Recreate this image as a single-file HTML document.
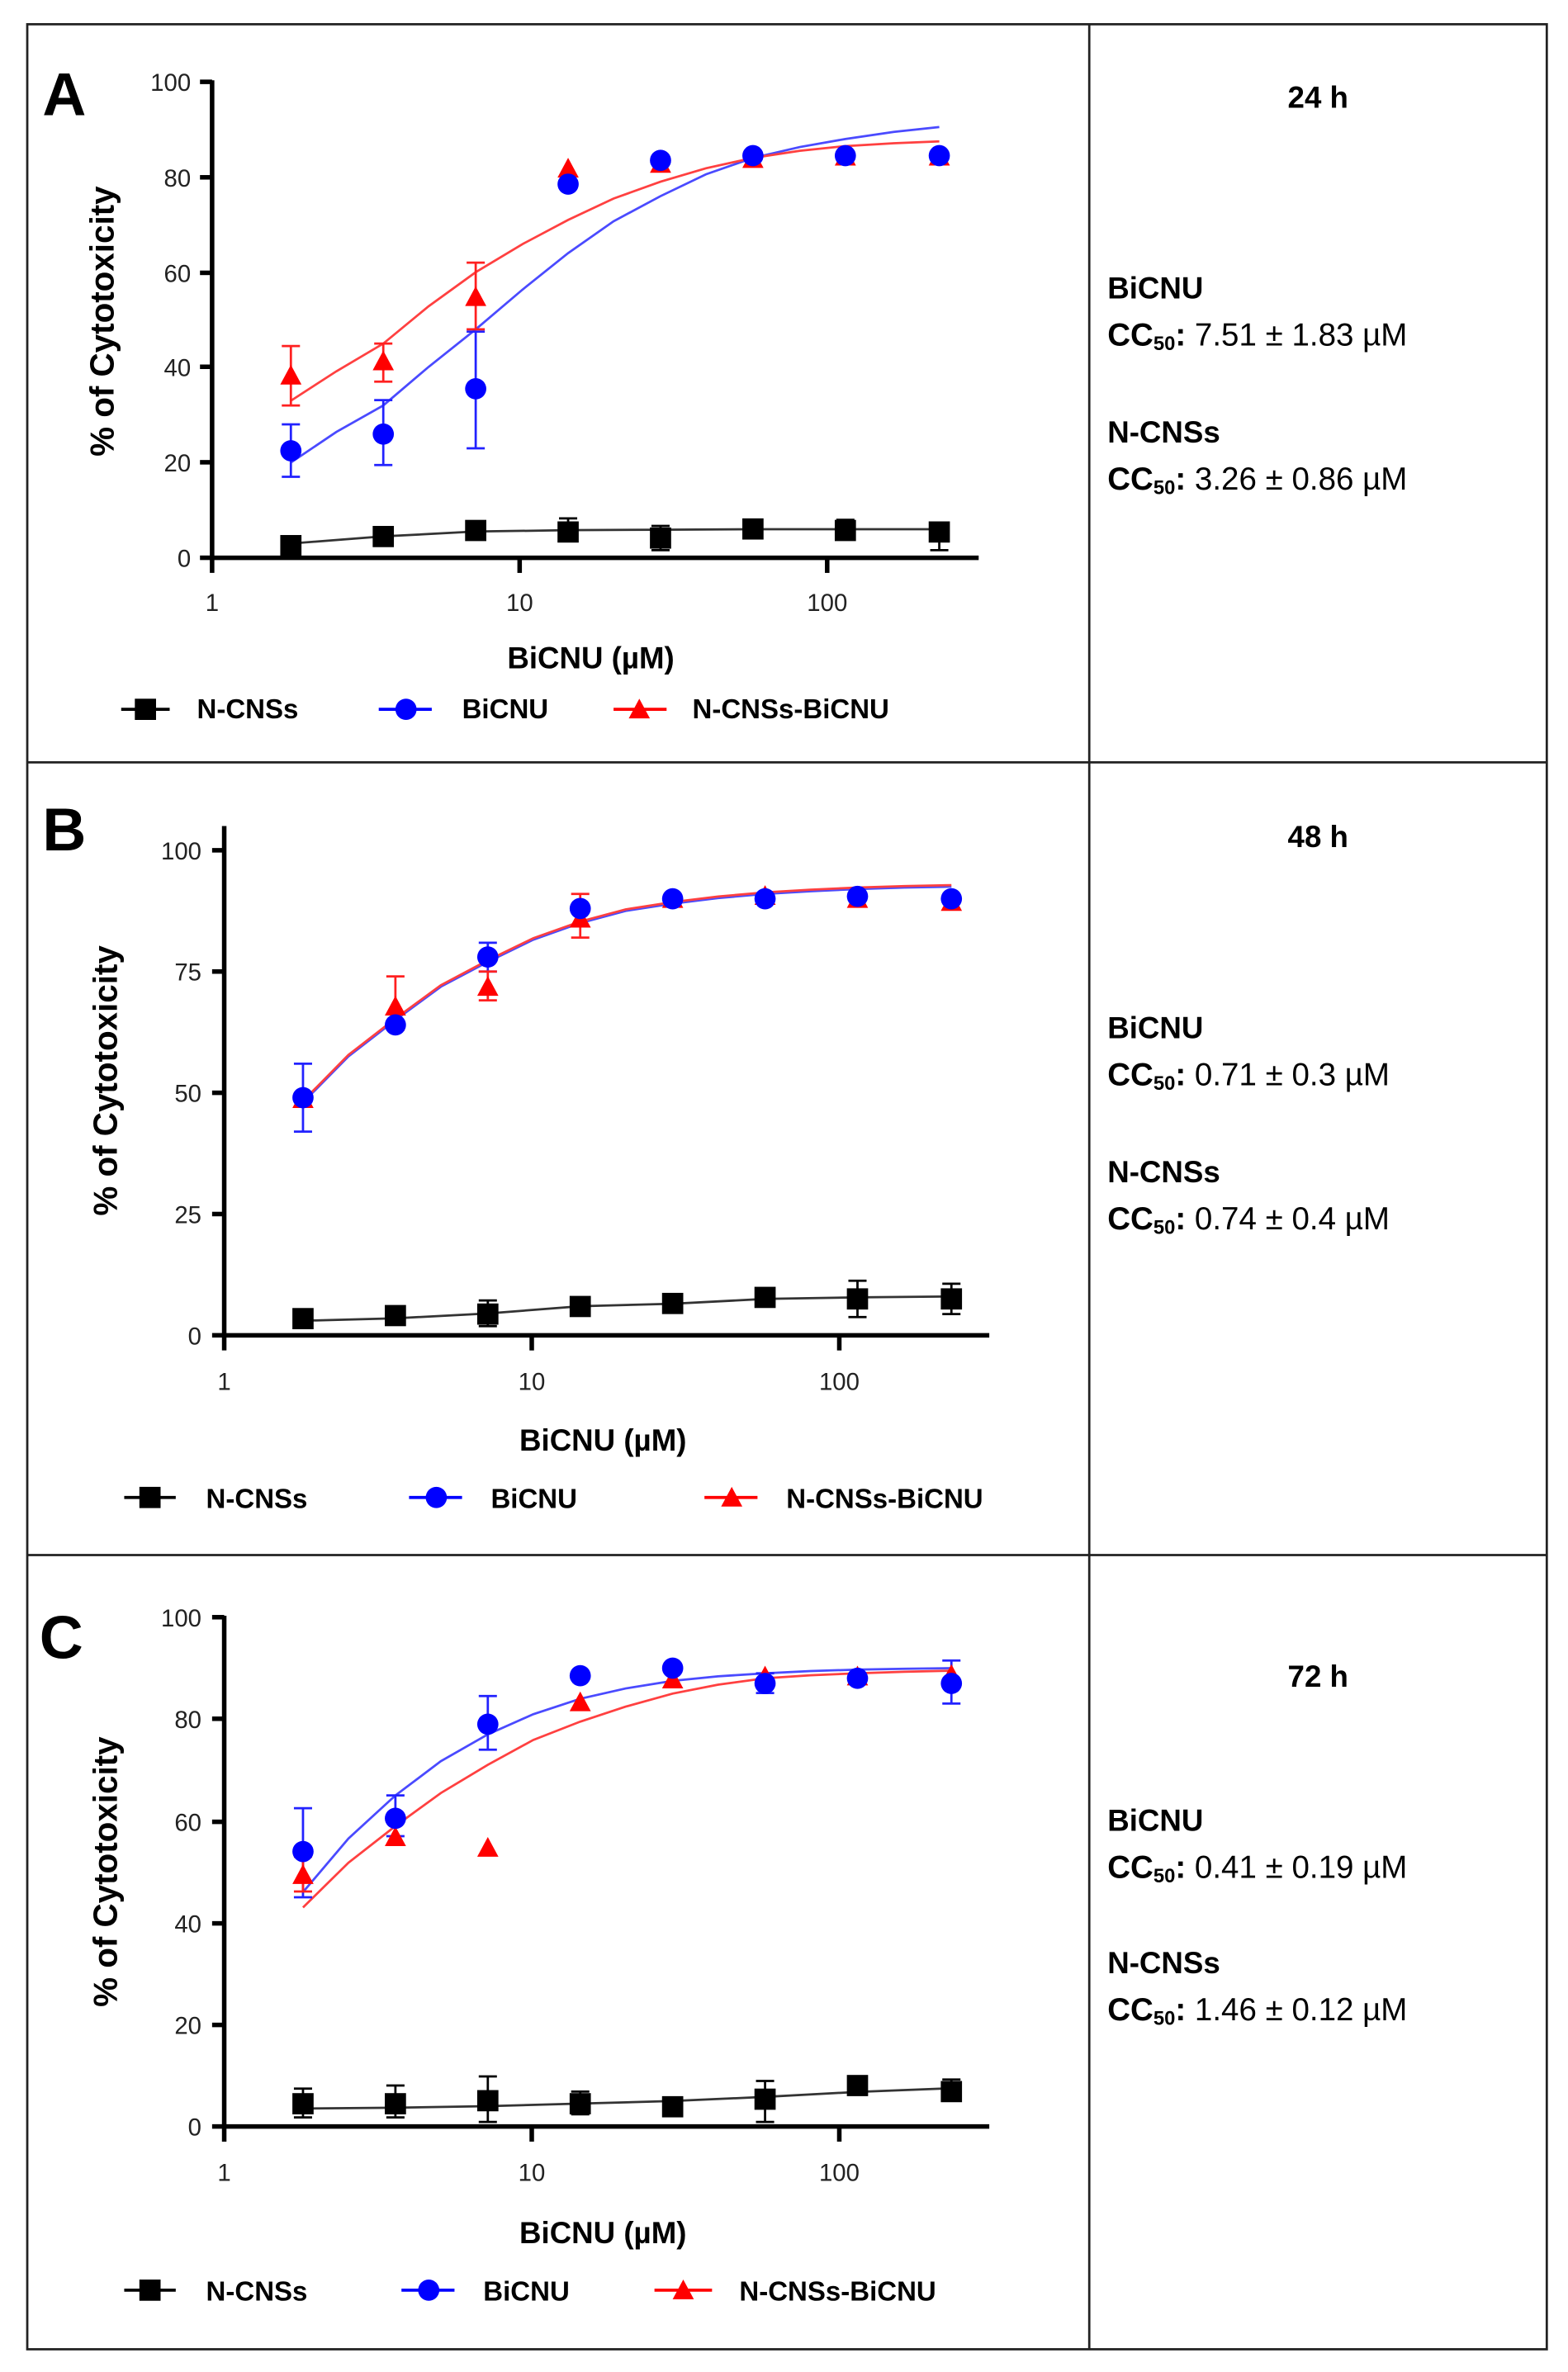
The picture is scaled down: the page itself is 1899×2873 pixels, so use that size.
<!DOCTYPE html>
<html><head><meta charset="utf-8"><style>
html,body{margin:0;padding:0;background:#fff;}
svg{display:block;}
text{font-family:"Liberation Sans",sans-serif;}
.t{font-size:16px;fill:#222;}
.yl{font-weight:bold;font-size:22px;}
.xl{font-weight:bold;font-size:20px;}
.lg{font-weight:bold;font-size:18px;}
.rt{font-weight:bold;font-size:20px;}
.rn{font-size:21px;}
</style></head><body>
<svg width="1899" height="2873" viewBox="0 0 1035 1565" preserveAspectRatio="none" xmlns="http://www.w3.org/2000/svg">
<defs>
<polygon id="tri" points="0,-8 7,5 -7,5"/>
</defs>
<g stroke="#222" stroke-width="1.5" fill="none">
<rect x="18" y="16" width="1003" height="1534"/>
<line x1="719" y1="16" x2="719" y2="1550"/>
<line x1="18" y1="503" x2="1021" y2="503"/>
<line x1="18" y1="1026" x2="1021" y2="1026"/>
</g>

<!-- ============ PANEL A ============ -->
<text x="28" y="76" font-size="40" font-weight="bold">A</text>
<g stroke="#000" stroke-width="3" fill="none">
<line x1="140" y1="53" x2="140" y2="378"/>
<line x1="139" y1="368" x2="646" y2="368"/>
<line x1="140" y1="54" x2="132" y2="54"/><line x1="140" y1="117" x2="132" y2="117"/><line x1="140" y1="180" x2="132" y2="180"/><line x1="140" y1="242" x2="132" y2="242"/><line x1="140" y1="305" x2="132" y2="305"/><line x1="140" y1="368" x2="132" y2="368"/>
<line x1="343" y1="368" x2="343" y2="378"/><line x1="546" y1="368" x2="546" y2="378"/>
</g>
<g class="t" text-anchor="end"><text x="126" y="60">100</text><text x="126" y="123">80</text><text x="126" y="186">60</text><text x="126" y="248">40</text><text x="126" y="311">20</text><text x="126" y="374">0</text></g>
<g class="t" text-anchor="middle"><text x="140" y="403">1</text><text x="343" y="403">10</text><text x="546" y="403">100</text></g>
<text class="yl" transform="translate(75,212) rotate(-90)" text-anchor="middle">% of Cytotoxicity</text>
<text class="xl" x="390" y="441" text-anchor="middle">BiCNU (µM)</text>
<polyline fill="none" stroke="#4a4aff" stroke-width="1.5" points="192,305.2 222,285 253,267.5 283,242 314,217.3 345,191 375,167 405,146 436,129.4 466,115 497,104.2 528,97 558,91.7 590,87 620,83.8"/>
<polyline fill="none" stroke="#ff4040" stroke-width="1.5" points="192,264.4 222,245 253,226.7 283,202 314,179.6 345,161 375,145.1 405,131 436,119.9 466,111 497,104.2 528,99.5 558,96.4 590,94.5 620,93.3"/>
<polyline fill="none" stroke="#333" stroke-width="1.5" points="192,358.6 253,353.9 314,350.7 375,349.8 436,349.5 497,349.2 558,349.2 620,349.2"/>
<g stroke="#2222ff" stroke-width="1.5"><path d="M192,314.6V280M186,314.6h12M186,280h12M253,306.8V264M247,306.8h12M247,264h12M314,295.8V218.8M308,295.8h12M308,218.8h12"/></g>
<g stroke="#ff2020" stroke-width="1.5"><path d="M192,267.5V228.3M186,267.5h12M186,228.3h12M253,251.8V226.7M247,251.8h12M247,226.7h12M314,217.3V173.3M308,217.3h12M308,173.3h12"/></g>
<g stroke="#000" stroke-width="1.5"><path d="M375,342V357M369,342h12M369,357h12M436,347V363M430,347h12M430,363h12M558,343V356M552,343h12M552,356h12M620,346V363M614,346h12M614,363h12"/></g>
<g fill="#ff0000"><use href="#tri" x="192" y="248.7"/><use href="#tri" x="253" y="239.3"/><use href="#tri" x="314" y="196.9"/><use href="#tri" x="375" y="112.1"/><use href="#tri" x="436" y="109"/><use href="#tri" x="497" y="105.8"/><use href="#tri" x="558" y="104.2"/><use href="#tri" x="620" y="104.2"/></g>
<g fill="#0000ff"><circle cx="192" cy="297.4" r="7"/><circle cx="253" cy="286.4" r="7"/><circle cx="314" cy="256.5" r="7"/><circle cx="375" cy="121.5" r="7"/><circle cx="436" cy="105.8" r="7"/><circle cx="497" cy="102.7" r="7"/><circle cx="558" cy="102.7" r="7"/><circle cx="620" cy="102.7" r="7"/></g>
<g fill="#000"><rect x="185" y="353" width="14" height="14"/><rect x="246" y="347" width="14" height="14"/><rect x="307" y="343" width="14" height="14"/><rect x="368" y="344" width="14" height="14"/><rect x="429" y="348" width="14" height="14"/><rect x="490" y="342" width="14" height="14"/><rect x="551" y="343" width="14" height="14"/><rect x="613" y="344" width="14" height="14"/></g>
<line x1="80" y1="468" x2="112" y2="468" stroke="#000" stroke-width="2"/><rect x="89" y="461" width="14" height="14"/>
<text class="lg" x="130" y="474">N-CNSs</text>
<line x1="250" y1="468" x2="285" y2="468" stroke="#0000ff" stroke-width="2"/><circle cx="268" cy="468" r="7" fill="#0000ff"/>
<text class="lg" x="305" y="474">BiCNU</text>
<line x1="405" y1="468" x2="440" y2="468" stroke="#ff0000" stroke-width="2"/><use href="#tri" x="422" y="469" fill="#ff0000"/>
<text class="lg" x="457" y="474">N-CNSs-BiCNU</text>
<text class="rt" x="870" y="71" text-anchor="middle">24 h</text>
<text class="rt" x="731" y="197">BiCNU</text>
<text class="rn" x="731" y="228"><tspan font-weight="bold">CC<tspan font-size="13" dy="3">50</tspan><tspan dy="-3">:</tspan></tspan> 7.51 ± 1.83 µM</text>
<text class="rt" x="731" y="292">N-CNSs</text>
<text class="rn" x="731" y="323"><tspan font-weight="bold">CC<tspan font-size="13" dy="3">50</tspan><tspan dy="-3">:</tspan></tspan> 3.26 ± 0.86 µM</text>

<!-- ============ PANEL B ============ -->
<text x="28" y="561" font-size="40" font-weight="bold">B</text>
<g stroke="#000" stroke-width="3" fill="none">
<line x1="148" y1="545" x2="148" y2="891"/>
<line x1="147" y1="881" x2="653" y2="881"/>
<line x1="148" y1="561" x2="140" y2="561"/><line x1="148" y1="641" x2="140" y2="641"/><line x1="148" y1="721" x2="140" y2="721"/><line x1="148" y1="801" x2="140" y2="801"/><line x1="148" y1="881" x2="140" y2="881"/>
<line x1="351" y1="881" x2="351" y2="891"/><line x1="554" y1="881" x2="554" y2="891"/>
</g>
<g class="t" text-anchor="end" font-size="18"><text x="133" y="567">100</text><text x="133" y="647">75</text><text x="133" y="727">50</text><text x="133" y="807">25</text><text x="133" y="887">0</text></g>
<g class="t" text-anchor="middle" font-size="18"><text x="148" y="917">1</text><text x="351" y="917">10</text><text x="554" y="917">100</text></g>
<text class="yl" font-size="26" transform="translate(77,713) rotate(-90)" text-anchor="middle">% of Cytotoxicity</text>
<text class="xl" font-size="25" x="398" y="957" text-anchor="middle">BiCNU (µM)</text>
<polyline fill="none" stroke="#4a4aff" stroke-width="1.5" points="200,727.4 230,697 261,673 291,651 322,634.6 352,620 383,609 413,601 444,596.2 474,592.5 505,589.8 535,588 566,586.6 597,585.6 628,585"/>
<polyline fill="none" stroke="#ff4040" stroke-width="1.5" points="200,726.4 230,696 261,672 291,650 322,633.6 352,619 383,608 413,600 444,595.2 474,591.5 505,588.8 535,587 566,585.6 597,584.6 628,584"/>
<polyline fill="none" stroke="#333" stroke-width="1.5" points="200,871.4 261,869.8 322,866.6 383,861.8 444,860.2 505,857 566,856 628,855.4"/>
<g stroke="#2222ff" stroke-width="1.5"><path d="M200,746.6V701.8M194,746.6h12M194,701.8h12M322,641V622M316,641h12M316,622h12"/></g>
<g stroke="#ff2020" stroke-width="1.5"><path d="M261,679.4V644.2M255,679.4h12M255,644.2h12M322,660V641M316,660h12M316,641h12M383,618.6V589.8M377,618.6h12M377,589.8h12"/></g>
<g stroke="#000" stroke-width="1.5"><path d="M322,858V875M316,858h12M316,875h12M566,845V869M560,845h12M560,869h12M628,847V867M622,847h12M622,867h12"/></g>
<g fill="#ff0000"><use href="#tri" x="200" y="726"/><use href="#tri" x="261" y="665"/><use href="#tri" x="322" y="652"/><use href="#tri" x="383" y="607"/><use href="#tri" x="444" y="594"/><use href="#tri" x="505" y="592"/><use href="#tri" x="566" y="594"/><use href="#tri" x="628" y="596"/></g>
<g fill="#0000ff"><circle cx="200" cy="724.2" r="7"/><circle cx="261" cy="676.2" r="7"/><circle cx="322" cy="631.4" r="7"/><circle cx="383" cy="599.4" r="7"/><circle cx="444" cy="593" r="7"/><circle cx="505" cy="593" r="7"/><circle cx="566" cy="591.4" r="7"/><circle cx="628" cy="593" r="7"/></g>
<g fill="#000"><rect x="193" y="863" width="14" height="14"/><rect x="254" y="861" width="14" height="14"/><rect x="315" y="860" width="14" height="14"/><rect x="376" y="855" width="14" height="14"/><rect x="437" y="853" width="14" height="14"/><rect x="498" y="849" width="14" height="14"/><rect x="559" y="850" width="14" height="14"/><rect x="621" y="850" width="14" height="14"/></g>
<line x1="82" y1="988" x2="116" y2="988" stroke="#000" stroke-width="2"/><rect x="92" y="981" width="14" height="14"/>
<text class="lg" font-size="21" x="136" y="995">N-CNSs</text>
<line x1="270" y1="988" x2="305" y2="988" stroke="#0000ff" stroke-width="2"/><circle cx="288" cy="988" r="7" fill="#0000ff"/>
<text class="lg" font-size="21" x="324" y="995">BiCNU</text>
<line x1="465" y1="988" x2="500" y2="988" stroke="#ff0000" stroke-width="2"/><use href="#tri" x="483" y="989" fill="#ff0000"/>
<text class="lg" font-size="21" x="519" y="995">N-CNSs-BiCNU</text>
<text class="rt" x="870" y="559" text-anchor="middle">48 h</text>
<text class="rt" x="731" y="685">BiCNU</text>
<text class="rn" x="731" y="716"><tspan font-weight="bold">CC<tspan font-size="13" dy="3">50</tspan><tspan dy="-3">:</tspan></tspan> 0.71 ± 0.3 µM</text>
<text class="rt" x="731" y="780">N-CNSs</text>
<text class="rn" x="731" y="811"><tspan font-weight="bold">CC<tspan font-size="13" dy="3">50</tspan><tspan dy="-3">:</tspan></tspan> 0.74 ± 0.4 µM</text>

<!-- ============ PANEL C ============ -->
<text x="26" y="1094" font-size="40" font-weight="bold">C</text>
<g stroke="#000" stroke-width="3" fill="none">
<line x1="148" y1="1066" x2="148" y2="1413"/>
<line x1="147" y1="1403" x2="653" y2="1403"/>
<line x1="148" y1="1067" x2="140" y2="1067"/><line x1="148" y1="1134" x2="140" y2="1134"/><line x1="148" y1="1202" x2="140" y2="1202"/><line x1="148" y1="1269" x2="140" y2="1269"/><line x1="148" y1="1336" x2="140" y2="1336"/><line x1="148" y1="1403" x2="140" y2="1403"/>
<line x1="351" y1="1403" x2="351" y2="1413"/><line x1="554" y1="1403" x2="554" y2="1413"/>
</g>
<g class="t" text-anchor="end" font-size="18"><text x="133" y="1073">100</text><text x="133" y="1140">80</text><text x="133" y="1208">60</text><text x="133" y="1275">40</text><text x="133" y="1342">20</text><text x="133" y="1409">0</text></g>
<g class="t" text-anchor="middle" font-size="18"><text x="148" y="1439">1</text><text x="351" y="1439">10</text><text x="554" y="1439">100</text></g>
<text class="yl" font-size="26" transform="translate(77,1235) rotate(-90)" text-anchor="middle">% of Cytotoxicity</text>
<text class="xl" font-size="25" x="398" y="1480" text-anchor="middle">BiCNU (µM)</text>
<polyline fill="none" stroke="#4a4aff" stroke-width="1.5" points="200,1248.4 230,1213 261,1184.6 291,1162 322,1144.3 352,1131 383,1120.8 413,1114 444,1109 474,1106 505,1104 535,1102.5 566,1101.6 597,1101 628,1100.6"/>
<polyline fill="none" stroke="#ff4040" stroke-width="1.5" points="200,1258.5 230,1229 261,1204.8 291,1183 322,1164.4 352,1148 383,1135.9 413,1126 444,1117.4 474,1111.5 505,1107.3 535,1105.3 566,1104 597,1103 628,1102.3"/>
<polyline fill="none" stroke="#333" stroke-width="1.5" points="200,1391.2 261,1390.6 322,1389.6 383,1387.9 444,1386.2 505,1383.5 566,1380.2 628,1377.8"/>
<g stroke="#2222ff" stroke-width="1.5"><path d="M200,1251.8V1193M194,1251.8h12M194,1193h12M261,1211.5V1184.6M255,1211.5h12M255,1184.6h12M322,1154.4V1119M316,1154.4h12M316,1119h12M505,1117V1104M499,1117h12M499,1104h12M628,1124V1095.6M622,1124h12M622,1095.6h12"/></g>
<g stroke="#ff2020" stroke-width="1.5"><path d="M200,1248V1225M194,1248h12M194,1225h12"/></g>
<g stroke="#000" stroke-width="1.5"><path d="M200,1378V1397M194,1378h12M194,1397h12M261,1376V1397M255,1376h12M255,1397h12M322,1370V1400M316,1370h12M316,1400h12M383,1380V1395M377,1380h12M377,1395h12M505,1373V1400M499,1373h12M499,1400h12M628,1372V1386M622,1372h12M622,1386h12"/></g>
<g fill="#ff0000"><use href="#tri" x="200" y="1238"/><use href="#tri" x="261" y="1213"/><use href="#tri" x="322" y="1220"/><use href="#tri" x="383" y="1124"/><use href="#tri" x="444" y="1109"/><use href="#tri" x="505" y="1107"/><use href="#tri" x="566" y="1107"/><use href="#tri" x="628" y="1106"/></g>
<g fill="#0000ff"><circle cx="200" cy="1221.6" r="7"/><circle cx="261" cy="1199.7" r="7"/><circle cx="322" cy="1137.6" r="7"/><circle cx="383" cy="1105.6" r="7"/><circle cx="444" cy="1100.6" r="7"/><circle cx="505" cy="1110.7" r="7"/><circle cx="566" cy="1107.3" r="7"/><circle cx="628" cy="1110.7" r="7"/></g>
<g fill="#000"><rect x="193" y="1381" width="14" height="14"/><rect x="254" y="1381" width="14" height="14"/><rect x="315" y="1379" width="14" height="14"/><rect x="376" y="1381" width="14" height="14"/><rect x="437" y="1383" width="14" height="14"/><rect x="498" y="1378" width="14" height="14"/><rect x="559" y="1369" width="14" height="14"/><rect x="621" y="1373" width="14" height="14"/></g>
<line x1="82" y1="1511" x2="116" y2="1511" stroke="#000" stroke-width="2"/><rect x="92" y="1504" width="14" height="14"/>
<text class="lg" font-size="21" x="136" y="1518">N-CNSs</text>
<line x1="265" y1="1511" x2="300" y2="1511" stroke="#0000ff" stroke-width="2"/><circle cx="283" cy="1511" r="7" fill="#0000ff"/>
<text class="lg" font-size="21" x="319" y="1518">BiCNU</text>
<line x1="432" y1="1511" x2="470" y2="1511" stroke="#ff0000" stroke-width="2"/><use href="#tri" x="451" y="1512" fill="#ff0000"/>
<text class="lg" font-size="21" x="488" y="1518">N-CNSs-BiCNU</text>
<text class="rt" x="870" y="1113" text-anchor="middle">72 h</text>
<text class="rt" x="731" y="1208">BiCNU</text>
<text class="rn" x="731" y="1239"><tspan font-weight="bold">CC<tspan font-size="13" dy="3">50</tspan><tspan dy="-3">:</tspan></tspan> 0.41 ± 0.19 µM</text>
<text class="rt" x="731" y="1302">N-CNSs</text>
<text class="rn" x="731" y="1333"><tspan font-weight="bold">CC<tspan font-size="13" dy="3">50</tspan><tspan dy="-3">:</tspan></tspan>  1.46 ± 0.12 µM</text>
</svg>
</body></html>
